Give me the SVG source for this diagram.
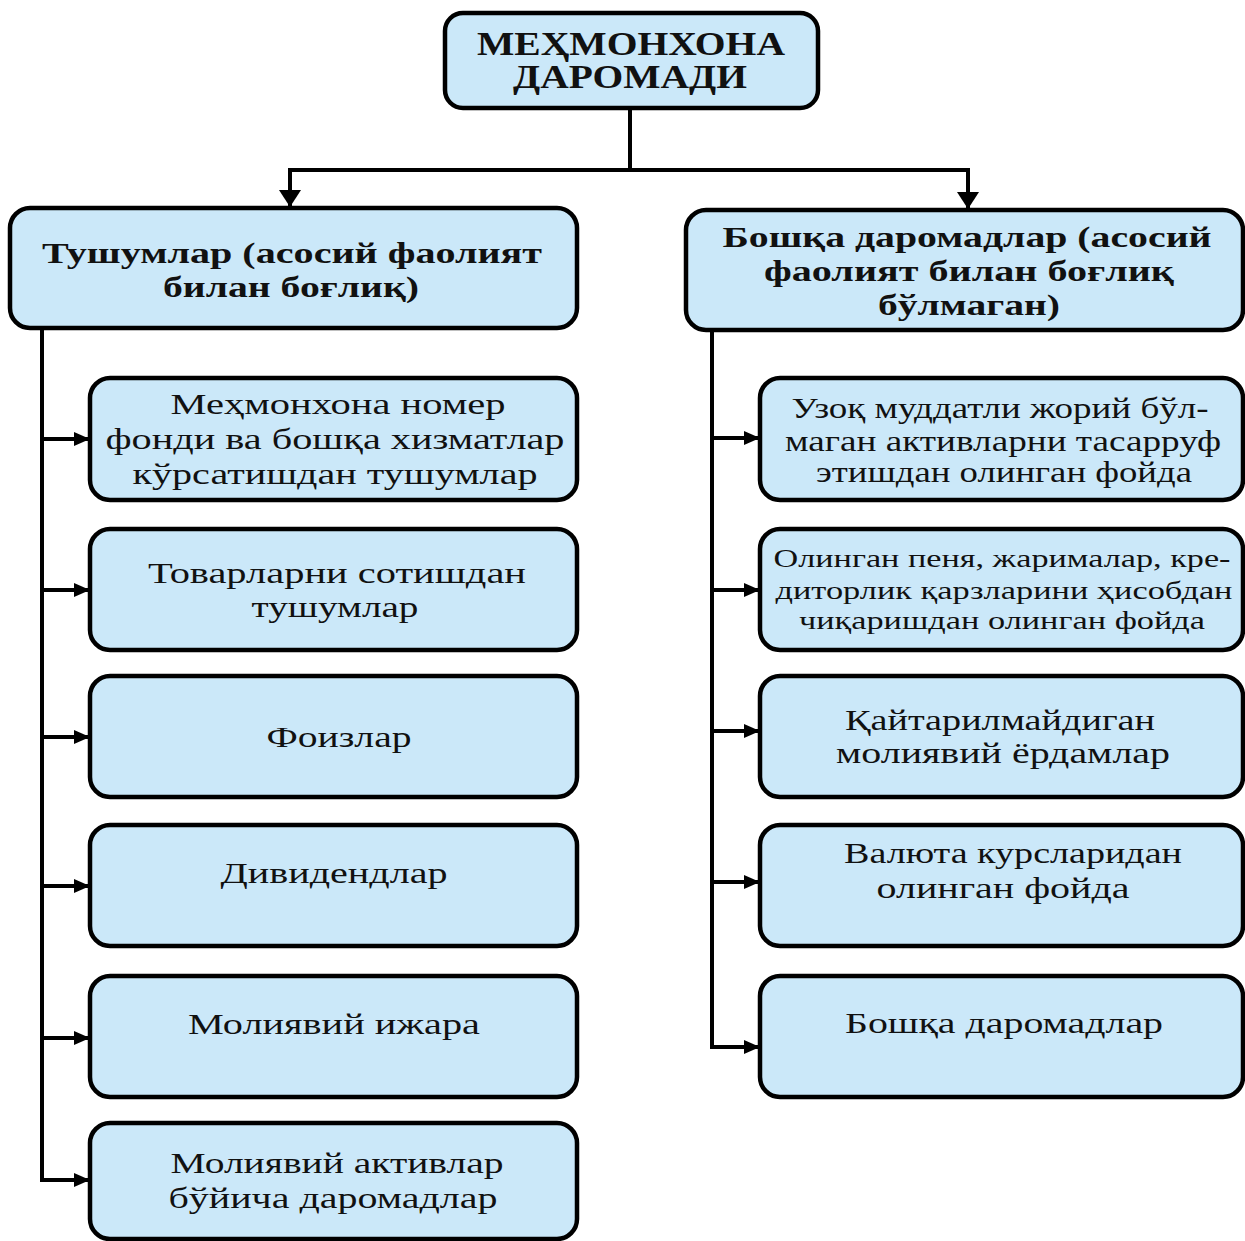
<svg xmlns="http://www.w3.org/2000/svg" width="1245" height="1241" viewBox="0 0 1245 1241">
<style>
.box{fill:#cbe8f9;stroke:#000;stroke-width:4.5}
.t{font-family:"Liberation Serif","Times New Roman",serif;font-size:30px;fill:#111;text-anchor:middle}
.s{font-size:26px}
.b{font-weight:bold}
.h{font-size:29px}
.top{font-size:33px}
.c{fill:none;stroke:#000;stroke-width:4}
</style>
<defs>
<marker id="ah" markerUnits="userSpaceOnUse" markerWidth="16" markerHeight="14" refX="15" refY="7" orient="auto"><path d="M0,0 L16,7 L0,14 z" fill="#000"/></marker>
<marker id="ad" markerUnits="userSpaceOnUse" markerWidth="17" markerHeight="22" refX="16" refY="11" orient="auto"><path d="M0,0 L17,11 L0,22 z" fill="#000"/></marker>
</defs>
<rect width="1245" height="1241" fill="#fff"/>
<g id="connectors">
<path class="c" d="M630,108 V170"/>
<path class="c" d="M290,170 H968"/>
<path class="c" d="M290,168 V206" marker-end="url(#ad)"/>
<path class="c" d="M968,168 V208" marker-end="url(#ad)"/>
<path class="c" d="M42,328 V1180 H89" marker-end="url(#ah)"/>
<path class="c" d="M42,439 H89" marker-end="url(#ah)"/>
<path class="c" d="M42,590 H89" marker-end="url(#ah)"/>
<path class="c" d="M42,737 H89" marker-end="url(#ah)"/>
<path class="c" d="M42,886 H89" marker-end="url(#ah)"/>
<path class="c" d="M42,1038 H89" marker-end="url(#ah)"/>
<path class="c" d="M712,330 V1047 H759" marker-end="url(#ah)"/>
<path class="c" d="M712,438 H759" marker-end="url(#ah)"/>
<path class="c" d="M712,590 H759" marker-end="url(#ah)"/>
<path class="c" d="M712,731 H759" marker-end="url(#ah)"/>
<path class="c" d="M712,882 H759" marker-end="url(#ah)"/>
</g>
<g id="root">
<rect class="box" x="445" y="13" width="373" height="95" rx="18"/>
<text class="t b top" x="631" y="55" textLength="308" lengthAdjust="spacingAndGlyphs">МЕҲМОНХОНА</text>
<text class="t b top" x="630" y="88" textLength="234" lengthAdjust="spacingAndGlyphs">ДАРОМАДИ</text>
</g>
<g id="left-head">
<rect class="box" x="10" y="208" width="567" height="120" rx="20"/>
<text class="t b h" x="292" y="263" textLength="500" lengthAdjust="spacingAndGlyphs">Тушумлар (асосий фаолият</text>
<text class="t b h" x="291" y="297" textLength="256" lengthAdjust="spacingAndGlyphs">билан боғлиқ)</text>
</g>
<g id="right-head">
<rect class="box" x="686" y="210" width="557" height="120" rx="20"/>
<text class="t b h" x="967" y="247" textLength="489" lengthAdjust="spacingAndGlyphs">Бошқа даромадлар (асосий</text>
<text class="t b h" x="969" y="281" textLength="410" lengthAdjust="spacingAndGlyphs">фаолият билан боғлиқ</text>
<text class="t b h" x="969" y="315" textLength="182" lengthAdjust="spacingAndGlyphs">бўлмаган)</text>
</g>
<g id="l1">
<rect class="box" x="90" y="378" width="487" height="122" rx="20"/>
<text class="t" x="338" y="414" textLength="335" lengthAdjust="spacingAndGlyphs">Меҳмонхона номер</text>
<text class="t" x="335" y="449" textLength="459" lengthAdjust="spacingAndGlyphs">фонди ва бошқа хизматлар</text>
<text class="t" x="335" y="484" textLength="405" lengthAdjust="spacingAndGlyphs">кўрсатишдан тушумлар</text>
</g>
<g id="l2">
<rect class="box" x="90" y="529" width="487" height="121" rx="20"/>
<text class="t" x="337" y="583" textLength="378" lengthAdjust="spacingAndGlyphs">Товарларни сотишдан</text>
<text class="t" x="335" y="617" textLength="167" lengthAdjust="spacingAndGlyphs">тушумлар</text>
</g>
<g id="l3">
<rect class="box" x="90" y="676" width="487" height="121" rx="20"/>
<text class="t" x="339" y="747" textLength="145" lengthAdjust="spacingAndGlyphs">Фоизлар</text>
</g>
<g id="l4">
<rect class="box" x="90" y="825" width="487" height="121" rx="20"/>
<text class="t" x="334" y="883" textLength="227" lengthAdjust="spacingAndGlyphs">Дивидендлар</text>
</g>
<g id="l5">
<rect class="box" x="90" y="976" width="487" height="121" rx="20"/>
<text class="t" x="334" y="1034" textLength="292" lengthAdjust="spacingAndGlyphs">Молиявий ижара</text>
</g>
<g id="l6">
<rect class="box" x="90" y="1123" width="487" height="116" rx="20"/>
<text class="t" x="337" y="1173" textLength="333" lengthAdjust="spacingAndGlyphs">Молиявий активлар</text>
<text class="t" x="333" y="1208" textLength="329" lengthAdjust="spacingAndGlyphs">бўйича даромадлар</text>
</g>
<g id="r1">
<rect class="box" x="760" y="378" width="483" height="122" rx="20"/>
<text class="t" x="1000" y="418" textLength="417" lengthAdjust="spacingAndGlyphs">Узоқ муддатли жорий бўл-</text>
<text class="t" x="1003" y="451" textLength="436" lengthAdjust="spacingAndGlyphs">маган активларни тасарруф</text>
<text class="t" x="1004" y="482" textLength="376" lengthAdjust="spacingAndGlyphs">этишдан олинган фойда</text>
</g>
<g id="r2">
<rect class="box" x="760" y="529" width="483" height="121" rx="20"/>
<text class="t s" x="1002" y="567" textLength="457" lengthAdjust="spacingAndGlyphs">Олинган пеня, жарималар, кре-</text>
<text class="t s" x="1004" y="599" textLength="457" lengthAdjust="spacingAndGlyphs">диторлик қарзларини ҳисобдан</text>
<text class="t s" x="1002" y="629" textLength="406" lengthAdjust="spacingAndGlyphs">чиқаришдан олинган фойда</text>
</g>
<g id="r3">
<rect class="box" x="760" y="676" width="483" height="121" rx="20"/>
<text class="t" x="1000" y="730" textLength="310" lengthAdjust="spacingAndGlyphs">Қайтарилмайдиган</text>
<text class="t" x="1003" y="763" textLength="334" lengthAdjust="spacingAndGlyphs">молиявий ёрдамлар</text>
</g>
<g id="r4">
<rect class="box" x="760" y="825" width="483" height="121" rx="20"/>
<text class="t" x="1013" y="863" textLength="338" lengthAdjust="spacingAndGlyphs">Валюта курсларидан</text>
<text class="t" x="1003" y="898" textLength="253" lengthAdjust="spacingAndGlyphs">олинган фойда</text>
</g>
<g id="r5">
<rect class="box" x="760" y="976" width="483" height="121" rx="20"/>
<text class="t" x="1004" y="1033" textLength="318" lengthAdjust="spacingAndGlyphs">Бошқа даромадлар</text>
</g>
</svg>
